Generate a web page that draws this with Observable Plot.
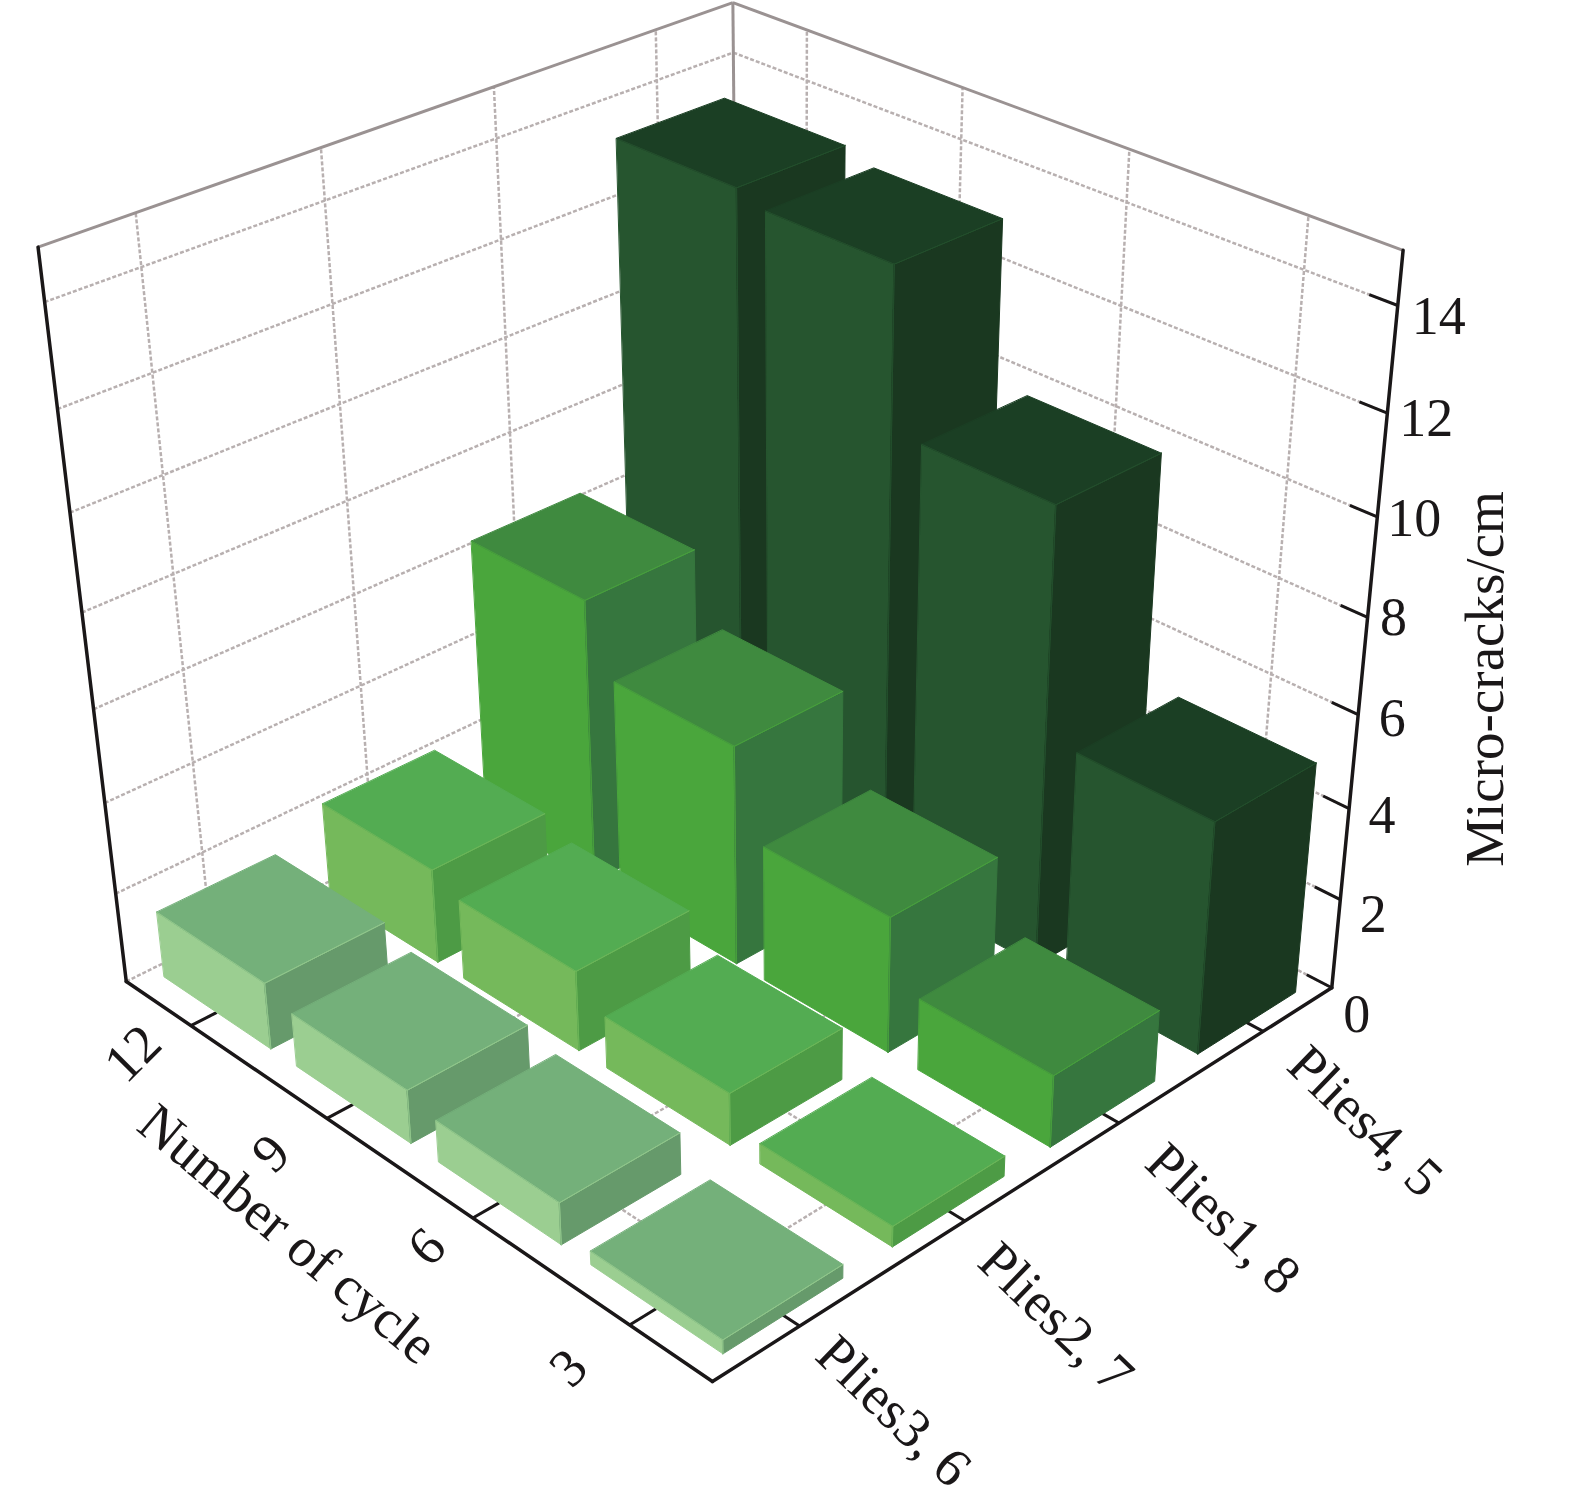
<!DOCTYPE html>
<html><head><meta charset="utf-8">
<style>html,body{margin:0;padding:0;background:#fff}svg{display:block}</style>
<script src="https://cdn.jsdelivr.net/npm/d3@7"></script>
<script src="https://cdn.jsdelivr.net/npm/@observablehq/plot@0.6"></script>
</head><body><div id="chart"></div>
<script>
// ---- data ----
const cycles = ["12", "9", "6", "3"];
const pliesLabels = ["Plies3, 6", "Plies2, 7", "Plies1, 8", "Plies4, 5"];
const plies36 = [1.48, 1.18, 0.92, 0.3];
const plies27 = [2.1, 1.78, 1.15, 0.45];
const plies18 = [6.3, 4.85, 3.0, 1.58];
const plies45 = [13.35, 13.13, 9.85, 5.07];
const series = [plies36, plies27, plies18, plies45];
const zTicks = [0, 2, 4, 6, 8, 10, 12, 14];
// face colours of each series: [left, top, right]
const shades = [
  ["#9bce91", "#74b07a", "#669a6b"],
  ["#75b95b", "#53ac52", "#4d9b45"],
  ["#4aa63c", "#3f8a3f", "#36763e"],
  ["#26552f", "#1b3f24", "#1a3820"]
];
// camera calibration: box coordinates [u, v, z] seen at pixel [px, py]
const anchors = [
  [0,0,0,125,980],[4,0,0,713,1382],[4,4,0,1333,987],
  [0,0,15,36,248],[0,4,15,732,3],[4,4,15,1402,248],
  [4,4,14,1396,306],[4,4,12,1386,411],[4,4,10,1375,515],[4,4,8,1366,617],
  [4,4,6,1358,713],[4,4,4,1348,810],[4,4,2,1339,902],
  [.5,0,0,188,1024],[1.5,0,0,328,1118],[2.5,0,0,473,1217],[3.5,0,0,632,1324],
  [4,.5,0,798,1326],[4,1.5,0,964,1221],[4,2.5,0,1116,1122],[4,3.5,0,1262,1030],
  [3.5,4,14,1304,269],[3.5,4,12,1297,376],[3.5,4,10,1288,478],[3.5,4,8,1281,578],
  [0,.5,14,140,267],[0,.5,12,152,373],[0,1.5,14,325,200],[0,1.5,12,333,303],
  [0,2.5,14,495,138],[0,2.5,12,503,238],[0,3.5,14,656,80]
];
const barWidthU = 0.81, barWidthV = 0.70;

// ---- camera (least-squares direct linear transform) ----
function solve(A, b) {
  const n = b.length, M = A.map((r, i) => [...r, b[i]]);
  for (let i = 0; i < n; i++) {
    let p = i;
    for (let r = i + 1; r < n; r++) if (Math.abs(M[r][i]) > Math.abs(M[p][i])) p = r;
    [M[i], M[p]] = [M[p], M[i]];
    for (let r = 0; r < n; r++) if (r !== i) {
      const f = M[r][i] / M[i][i];
      for (let c = i; c <= n; c++) M[r][c] -= f * M[i][c];
    }
  }
  return M.map((r, i) => r[n] / r[i]);
}
const cam = (() => {
  const rows = [], rhs = [];
  for (const [u, v, z, px, py] of anchors) {
    const Z = z / 3.75, x = px / 1000, y = py / 1000;
    rows.push([u, v, Z, 1, 0, 0, 0, 0, -x*u, -x*v, -x*Z]); rhs.push(x);
    rows.push([0, 0, 0, 0, u, v, Z, 1, -y*u, -y*v, -y*Z]); rhs.push(y);
  }
  const N = rows[0].map((_, i) => rows[0].map((_, j) => d3.sum(rows, r => r[i] * r[j])));
  const t = rows[0].map((_, i) => d3.sum(rows, (r, k) => r[i] * rhs[k]));
  return solve(N, t);
})();
function project(u, v, z) {
  const Z = z / 3.75, w = cam[8]*u + cam[9]*v + cam[10]*Z + 1;
  return [1000*(cam[0]*u + cam[1]*v + cam[2]*Z + cam[3])/w, 1000*(cam[4]*u + cam[5]*v + cam[6]*Z + cam[7])/w];
}
const seg = (a, b) => { const p = project(...a), q = project(...b); return {x1:p[0], y1:p[1], x2:q[0], y2:q[1]}; };

// ---- walls and floor grid ----
const grid = [], frame = [], ticks = [], axes = [];
for (const z of zTicks.slice(1)) {
  grid.push(seg([0,0,z],[0,4,z]), seg([0,4,z],[4,4,z]));
  ticks.push(seg([4,4,z],[3.85,4,z]));
}
ticks.push(seg([4,4,0],[3.85,4,0]));
cycles.forEach((_, i) => {
  grid.push(seg([i+.5,4,0],[i+.5,4,15]), seg([i+.5,0,0],[i+.5,4,0]));
  ticks.push(seg([i+.5,0,0],[i+.5,.15,0]));
});
pliesLabels.forEach((_, j) => {
  grid.push(seg([0,j+.5,0],[0,j+.5,15]), seg([0,j+.5,0],[4,j+.5,0]));
  ticks.push(seg([4,j+.5,0],[3.85,j+.5,0]));
});
grid.push(seg([0,0,0],[0,4,0]), seg([0,4,0],[4,4,0]));
frame.push(seg([0,0,15],[0,4,15]), seg([0,4,15],[4,4,15]), seg([0,4,0],[0,4,15]));
axes.push(seg([0,0,0],[0,0,15]), seg([0,0,0],[4,0,0]), seg([4,0,0],[4,4,0]), seg([4,4,0],[4,4,15]));

// ---- bars: painter's order, back to front ----
const faces = [];
const mu = (1 - barWidthU) / 2, mv = (1 - barWidthV) / 2;
function pushFace(id, pts, fill, stroke) {
  pts.forEach(p => { const [x, y] = project(...p); faces.push({id, x, y, fill, stroke}); });
}
for (let j = series.length - 1; j >= 0; j--) {
  series[j].forEach((h, i) => {
    const u0 = i + mu, u1 = i + 1 - mu, v0 = j + mv, v1 = j + 1 - mv;
    const [l, t, r] = shades[j], k = `${j}-${i}`;
    const edge = d3.interpolateRgb(l, t)(0.3);
    pushFace(k+"L", [[u0,v0,0],[u1,v0,0],[u1,v0,h],[u0,v0,h]], l, l);
    pushFace(k+"R", [[u1,v0,0],[u1,v1,0],[u1,v1,h],[u1,v0,h]], r, r);
    pushFace(k+"T", [[u0,v0,h],[u1,v0,h],[u1,v1,h],[u0,v1,h]], t, t);
    pushFace(k+"a", [[u1,v0,h],[u1,v0,0]], edge, edge);
    pushFace(k+"b", [[u0,v0,h],[u1,v0,h]], edge, edge);
    pushFace(k+"c", [[u1,v0,h],[u1,v1,h]], edge, edge);
  });
}

// ---- labels (text nudged off the projected tick) ----
const zNudge = [[25,27],[33,15],[33,7],[34,4],[26,0],[37,2],[39,6],[41,11]];
const zLabels = zTicks.map((z, i) => { const [x, y] = project(4,4,z); return {t:String(z), x:x+zNudge[i][0], y:y+zNudge[i][1]}; });
const cycNudge = [[-58,28],[-56,35],[-46,29],[-61,43]];
const cycLabels = cycles.map((c, i) => { const [x, y] = project(i+.5,0,0); return {t:c, x:x+cycNudge[i][0], y:y+cycNudge[i][1]}; });
const plyNudge = [[94,85],[91,97],[104,96],[102,90]];
const plyLabels = pliesLabels.map((c, j) => { const [x, y] = project(4,j+.5,0); return {t:c, x:x+plyNudge[j][0], y:y+plyNudge[j][1]}; });
const [lx0, ly0] = project(2,0,0);
const cycleTitle = [{t:"Number of cycle", x:lx0-111, y:ly0+67}];
const [lz0, lz1] = project(4,4,7.5);
const zTitle = [{t:"Micro-cracks/cm", x:lz0+120, y:lz1+37}];

const chart = Plot.plot({
  width: 1575, height: 1505, margin: 0,
  x: {domain:[0,1575], range:[0,1575], axis:null},
  y: {domain:[0,1505], range:[0,1505], axis:null},
  color: {type:"identity"},
  style: {fontFamily:"'Liberation Serif', serif", background:"#fff", overflow:"visible"},
  marks: [
    Plot.link(grid, {x1:"x1", y1:"y1", x2:"x2", y2:"y2", stroke:"#b8b0b0", strokeWidth:2.5, strokeDasharray:"4,2"}),
    Plot.link(frame, {x1:"x1", y1:"y1", x2:"x2", y2:"y2", stroke:"#9a9292", strokeWidth:3}),
    Plot.link(ticks, {x1:"x1", y1:"y1", x2:"x2", y2:"y2", stroke:"#1a1718", strokeWidth:3}),
    Plot.line(faces, {x:"x", y:"y", z:"id", fill:"fill", stroke:"stroke", strokeWidth:1, curve:"linear-closed"}),
    Plot.link(axes, {x1:"x1", y1:"y1", x2:"x2", y2:"y2", stroke:"#1a1718", strokeWidth:3.5, strokeLinecap:"round"}),
    Plot.text(zLabels, {x:"x", y:"y", text:"t", fontSize:54, fill:"#1a1718"}),
    Plot.text(cycLabels, {x:"x", y:"y", text:"t", fontSize:54, fill:"#1a1718", rotate:-45}),
    Plot.text(plyLabels, {x:"x", y:"y", text:"t", fontSize:55, fill:"#1a1718", rotate:44}),
    Plot.text(cycleTitle, {x:"x", y:"y", text:"t", fontSize:55, fill:"#1a1718", rotate:40}),
    Plot.text(zTitle, {x:"x", y:"y", text:"t", fontSize:55, fill:"#1a1718", rotate:-90})
  ]
});
document.getElementById("chart").appendChild(chart);
</script></body></html>
